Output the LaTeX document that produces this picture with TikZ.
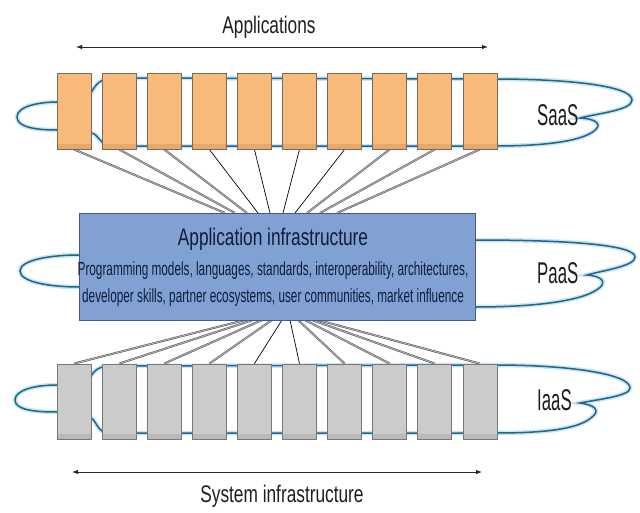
\documentclass[tikz,border=0pt]{standalone}
\usepackage{fontspec}
\setmainfont{Liberation Sans}
\newfontfamily\condA[FakeStretch=0.72]{Liberation Sans}
\newfontfamily\condB[FakeStretch=0.62]{Liberation Sans}
\newfontfamily\condC[FakeStretch=0.56]{Liberation Sans}
\usetikzlibrary{arrows.meta}
\definecolor{saasfill}{RGB}{247,186,122}
\definecolor{saasdark}{RGB}{232,168,108}
\definecolor{saasline}{RGB}{125,105,85}
\definecolor{iaasfill}{RGB}{203,203,203}
\definecolor{iaasdark}{RGB}{185,185,185}
\definecolor{iaasline}{RGB}{120,120,120}
\definecolor{infrafill}{RGB}{128,161,209}
\definecolor{infraline}{RGB}{70,90,130}
\definecolor{cloudc}{RGB}{35,100,135}
\definecolor{glowc}{RGB}{200,230,245}
\definecolor{txt}{RGB}{30,30,30}
\definecolor{navy}{RGB}{15,28,60}
\tikzset{
  saasbox/.style={draw=saasline, fill=saasfill, line width=0.8pt, minimum width=34pt, minimum height=76pt, inner sep=0pt,
    path picture={\fill[saasdark] (path picture bounding box.south west) rectangle ([yshift=5pt]path picture bounding box.south east);}},
  iaasbox/.style={draw=iaasline, fill=iaasfill, line width=0.8pt, minimum width=34pt, minimum height=75pt, inner sep=0pt,
    path picture={\fill[iaasdark] (path picture bounding box.south west) rectangle ([yshift=5pt]path picture bounding box.south east);}},
  infrabox/.style={draw=infraline, fill=infrafill, line width=1pt, minimum width=396pt, minimum height=107pt, inner sep=0pt},
  cloudline/.style={draw=cloudc, line width=1.5pt, preaction={draw=glowc, line width=4.5pt}},
  fandouble/.style={draw=black!65, double=black!30, double distance=0.9pt, line width=0.55pt},
  fansingle/.style={draw=black, line width=0.7pt},
  dimarrow/.style={draw=black!85, line width=0.9pt, {Latex[length=6pt,width=4.5pt]}-{Latex[length=6pt,width=4.5pt]}},
  bigtxt/.style={font=\condA\fontsize{24}{24}\selectfont, text=txt, inner sep=0pt, anchor=base},
  smalltxt/.style={font=\condB\fontsize{19}{19}\selectfont, text=navy, inner sep=0pt, anchor=base},
  svctxt/.style={font=\condC\fontsize{30}{30}\selectfont, text=txt, inner sep=0pt, anchor=base west}
}
\begin{document}
\begin{tikzpicture}[x=1pt,y=-1pt]
\useasboundingbox[fill=white] (0,0) rectangle (640,512);

% clouds
\path[cloudline] (17,117) .. controls (17,106) and (40,102) .. (57,102)
  -- (91,93) .. controls (96,84) and (100,79) .. (112,78)
  -- (495,79) .. controls (570,79) and (632,86) .. (632,100)
  .. controls (632,110) and (600,113) .. (580,118)
  .. controls (598,119) and (602,125) .. (594,131)
  .. controls (580,142) and (540,146) .. (495,146)
  -- (112,146) .. controls (100,146) and (98,133) .. (91,133)
  -- (57,130) .. controls (35,130) and (17,127) .. (17,117) -- cycle;

\path[cloudline] (20,271) .. controls (20,260) and (50,255) .. (79,255)
  -- (475,240) .. controls (560,240) and (635,244) .. (635,257)
  .. controls (635,266) and (605,270) .. (587,275)
  .. controls (603,276) and (607,283) .. (598,289)
  .. controls (580,302) and (530,307) .. (475,307)
  -- (79,287) .. controls (50,287) and (20,282) .. (20,271) -- cycle;

\path[cloudline] (15,400) .. controls (15,390) and (35,385) .. (57,385)
  -- (91,376) .. controls (95,370) and (98,367) .. (108,366)
  -- (495,365) .. controls (570,365) and (630,374) .. (630,388)
  .. controls (630,396) and (600,399) .. (580,403)
  .. controls (596,405) and (600,411) .. (592,417)
  .. controls (578,430) and (540,433) .. (495,433)
  -- (108,433) .. controls (98,433) and (96,420) .. (91,418)
  -- (57,412) .. controls (35,412) and (15,410) .. (15,400) -- cycle;

% application infrastructure box
\node[infrabox] (ai) at (277,266.5) {};

% box positions
\foreach \i in {0,...,9} {
  \coordinate (tp\i) at ({74+45.1*\i},111);
  \coordinate (bp\i) at ({74+45.1*\i},401.5);
}

% fan end points on the infrastructure box
\foreach \i/\x in {0/225,1/235,2/247,3/258,4/270,5/283,6/295,7/307,8/320,9/337} {
  \coordinate (ua\i) at (\x,213);
}
\foreach \i/\x in {0/245,1/253,2/262,3/272,4/282,5/290,6/298,7/305,8/312,9/318} {
  \coordinate (la\i) at (\x,320);
}

% boxes
\foreach \i in {0,...,9} { \node[saasbox] (t\i) at (tp\i) {}; }
\foreach \i in {0,...,9} { \node[iaasbox] (b\i) at (bp\i) {}; }

% fans
\foreach \i in {0,1,2,7,8,9} { \draw[fandouble] (t\i.south) -- (ua\i); }
\foreach \i in {3,4,5,6} { \draw[fansingle] (t\i.south) -- (ua\i); }
\foreach \i in {0,1,2,3,6,7,8,9} { \draw[fandouble] (b\i.north) -- (la\i); }
\foreach \i in {4,5} { \draw[fansingle] (b\i.north) -- (la\i); }

% redraw boxes over fan ends
\foreach \i in {0,...,9} { \node[saasbox] at (tp\i) {}; }
\foreach \i in {0,...,9} { \node[iaasbox] at (bp\i) {}; }
\node[infrabox] at (277,266.5) {};

% dimension arrows
\coordinate (aL) at (76,47);
\coordinate (aR) at (488,47);
\draw[dimarrow] (aL) -- (aR);
\coordinate (sL) at (72,472);
\coordinate (sR) at (482,472);
\draw[dimarrow] (sL) -- (sR);

% texts
\node[bigtxt] (apps) at (269,33) {Applications};
\node[bigtxt] (sys) at (282,502) {System infrastructure};
\node[bigtxt, text=navy] (title) at (273,245) {Application infrastructure};
\node[smalltxt] (l1) at (273,275) {Programming models, languages, standards, interoperability, architectures,};
\node[smalltxt] (l2) at (273,302) {developer skills, partner ecosystems, user communities, market influence};
\node[svctxt] (saas) at (537,125) {SaaS};
\node[svctxt] (paas) at (537,283) {PaaS};
\node[svctxt] (iaas) at (537,410) {IaaS};
\end{tikzpicture}
\end{document}
